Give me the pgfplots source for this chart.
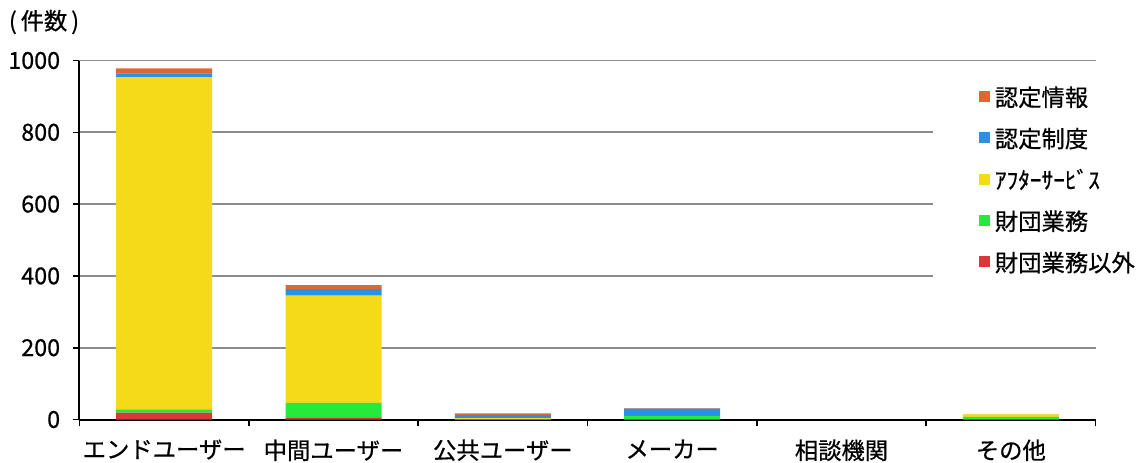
\documentclass[border=0pt]{standalone}
\usepackage{fontspec}
\setmainfont{Noto Sans CJK JP}[FakeBold=0.6]
\usepackage{pgfplots}
\pgfplotsset{compat=1.18}

\definecolor{cOrange}{RGB}{221,104,52}
\definecolor{cBlue}{RGB}{44,144,226}
\definecolor{cYellow}{RGB}{244,218,24}
\definecolor{cGreen}{RGB}{36,234,60}
\definecolor{cRed}{RGB}{218,56,56}
\definecolor{cGrid}{RGB}{140,140,140}

\begin{document}
\begin{tikzpicture}
\begin{axis}[
  scale only axis,
  width=762pt, height=269.25pt,
  xmin=-0.5, xmax=5.5, ymin=0, ymax=1000,
  ybar stacked, bar width=72pt,
  axis x line=bottom, axis y line=left,
  axis line style={-, line width=1.5pt, black},
  xtick={0,...,5},
  xticklabels={エンドユーザー,中間ユーザー,公共ユーザー,メーカー,相談機関,その他},
  minor xtick={-0.5,0.5,1.5,2.5,3.5,4.5,5.5},
  ytick={0,200,...,1000},
  tick align=outside,
  major tick length=4.5pt, minor tick length=4.5pt,
  every tick/.style={black, line width=1.2pt},
  every major x tick/.style={draw=none},
  ymajorgrids,
  grid style={line width=1.3pt, cGrid},
  font=\fontsize{17.5}{20}\selectfont,
  /pgf/number format/assume math mode=true,
  /pgf/number format/1000 sep={},
  xticklabel style={yshift=-7pt},
  yticklabel style={xshift=-6.5pt},
  reverse legend,
  legend cell align=left,
  legend image code/.code={\fill[#1] (3.5pt,-1.5pt) rectangle (11.75pt,6.75pt);},
  legend style={
    at={(0.84,0.948)}, anchor=north west,
    draw=none, fill=white,
    inner xsep=34pt, inner ysep=5pt,
    row sep=10pt,
    font=\fontsize{17.5}{20}\selectfont,
    nodes={text height=13pt, text depth=4pt, inner ysep=2pt, inner xsep=4pt},
  },
]
% bottom to top: 財団業務以外, 財団業務, アフターサービス, 認定制度, 認定情報
\addplot[fill=cRed, draw=none] coordinates {(0,19) (1,6) (2,0) (3,0) (4,0) (5,0)};
\addplot[fill=cGreen, draw=none] coordinates {(0,9) (1,40) (2,1) (3,10) (4,0) (5,7)};
\addplot[fill=cYellow, draw=none] coordinates {(0,926) (1,299) (2,3) (3,0) (4,0) (5,7)};
\addplot[fill=cBlue, draw=none] coordinates {(0,10) (1,18) (2,9) (3,20) (4,0) (5,0)};
\addplot[fill=cOrange, draw=none] coordinates {(0,14) (1,11) (2,4) (3,2) (4,0) (5,1)};
\legend{財団業務以外,財団業務,ｱﾌﾀｰｻｰﾋﾞｽ,認定制度,認定情報}
\end{axis}
\node[font=\fontsize{17.5}{20}\selectfont] at (-26.6pt,298.1pt) {(\,件数\,)};
\pgfresetboundingbox
\path[use as bounding box] (-59.625pt,-31.875pt) rectangle (793.125pt,314.625pt);
\end{tikzpicture}
\end{document}
